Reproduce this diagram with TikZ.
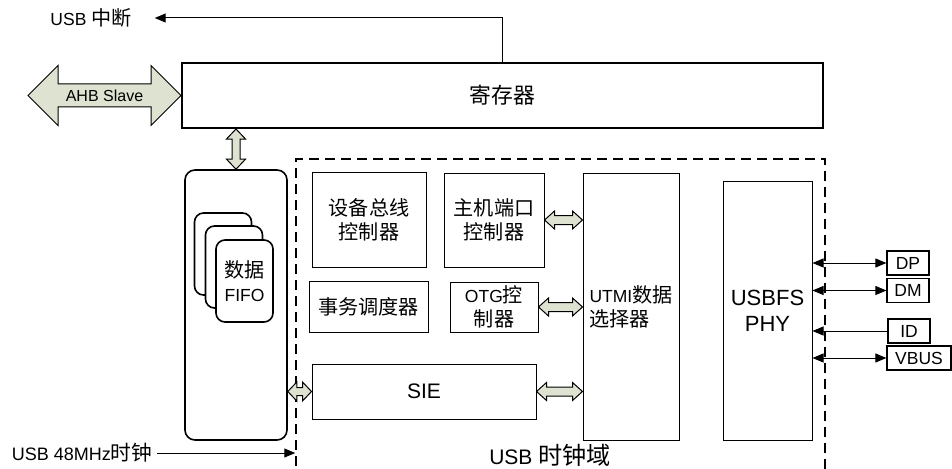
\documentclass[tikz,border=0pt]{standalone}
\usepackage{fontspec}
\setmainfont{Liberation Sans}
\newfontfamily\zhfont[Scale=1.15]{Noto Sans CJK SC}
\newcommand\zh[1]{{\zhfont #1}}
\usetikzlibrary{arrows.meta, positioning, calc}
\definecolor{fatfill}{RGB}{221,227,208}

% fat double arrows: from, to, head length, head half width, shaft half width
\newcommand\hfat[5]{\draw[fat] (#1) -- ++(#3,#4) -- ++(0,#5-#4) -- ($(#2)+(-#3,#5)$) -- ++(0,#4-#5) -- (#2)
  -- ++(-#3,-#4) -- ++(0,#4-#5) -- ($(#1)+(#3,-#5)$) -- ++(0,#5-#4) -- cycle;}
\newcommand\vfat[5]{\draw[fat] (#1) -- ++(#4,#3) -- ++(#5-#4,0) -- ($(#2)+(#5,-#3)$) -- ++(#4-#5,0) -- (#2)
  -- ++(-#4,-#3) -- ++(#4-#5,0) -- ($(#1)+(-#5,#3)$) -- ++(#5-#4,0) -- cycle;}

\begin{document}
\begin{tikzpicture}[
    x=1pt, y=-1pt, font=\fontsize{17.5}{24}\selectfont,
    box/.style={draw, line width=1pt, inner sep=0pt, align=center},
    card/.style={draw, fill=white, rounded corners=9pt, line width=1.6pt, minimum width=57pt, minimum height=82pt},
    pinbox/.style={draw, line width=1.2pt, inner sep=0pt, minimum height=24pt},
    fat/.style={draw, fill=fatfill, line width=1pt},
    sig/.style={line width=1pt, {Triangle[length=11pt,width=9pt]}-{Triangle[length=11pt,width=9pt]}},
    wire/.style={line width=1pt, -{Triangle[length=11pt,width=9pt]}},
    lbl/.style={inner sep=0pt},
]
\useasboundingbox (0,0) rectangle (952,468);

\node[box, line width=2pt, minimum width=641pt, minimum height=65pt, font=\fontsize{19}{22}\selectfont] (reg) at (502.5,95.5) {\zh{寄存器}};

\node[draw, line width=1.6pt, rounded corners=10pt, minimum width=102pt, minimum height=270pt] (fifo) at (236,305) {};
\node[card] (card1) at (223,254) {};
\node[card] (card2) at (234,267) {};
\node[card, align=center, inner sep=0pt] (card3) at (244.5,281) {\zh{数据}\\FIFO};

\node[draw, dash pattern=on 10pt off 6pt, line width=1.5pt, minimum width=529pt, minimum height=341pt] (dom) at (560.5,329.5) {};

\node[box, minimum width=114pt, minimum height=95pt] (dev) at (369,219.5) {\zh{设备总线}\\\zh{控制器}};
\node[box, minimum width=100pt, minimum height=94pt] (host) at (494,220) {\zh{主机端口}\\\zh{控制器}};
\node[box, minimum width=119pt, minimum height=51pt] (sched) at (368.5,306.5) {\zh{事务调度器}};
\node[box, minimum width=88pt, minimum height=50pt] (otg) at (494,307) {OTG\zh{控}\\\zh{制器}};
\node[box, minimum width=224pt, minimum height=55pt, font=\fontsize{21}{24}\selectfont] (sie) at (424,391.5) {SIE};
\node[box, align=left, minimum width=96pt, minimum height=267pt] (utmi) at (631,306.5) {UTMI\zh{数据}\\\zh{选择器}};
\node[box, minimum width=89pt, minimum height=259pt, font=\fontsize{22}{26}\selectfont] (phy) at (767.5,310.5) {USBFS\\PHY};

\node[pinbox, minimum width=42pt] (dp) at (908,263) {DP};
\node[pinbox, minimum width=42pt] (dm) at (908,290.5) {DM};
\node[pinbox, minimum width=42pt] (id) at (909,331) {ID};
\node[pinbox, minimum width=64pt] (vbus) at (919,358) {VBUS};

\node[lbl] (irq) at (91,18) {USB \zh{中断}};
\node[lbl, font=\fontsize{18}{20}\selectfont] (clk) at (82,453) {USB 48MHz\zh{时钟}};
\node[lbl, font=\fontsize{21}{24}\selectfont] (domlbl) at (550,455) {USB \zh{时钟域}};

\draw[wire] (reg.north) |- ([xshift=23pt]irq.east);
\draw[wire] ([xshift=5pt]clk.east) -- (clk.east -| dom.west);

\draw[sig] (dp.west -| phy.east) -- (dp.west);
\draw[sig] (dm.west -| phy.east) -- (dm.west);
\draw[wire] (id.west) -- (id.west -| phy.east);
\draw[sig] (vbus.west -| phy.east) -- (vbus.west);

\coordinate (ahb) at (28,95.5);
\hfat{ahb}{reg.west}{30}{30}{11.5}
\node[lbl, font=\fontsize{16}{18}\selectfont] (ahblbl) at ($(ahb)!0.5!(reg.west)$) {AHB Slave};

\coordinate (regfoot) at (reg.south -| fifo.north);
\vfat{regfoot}{fifo.north}{10}{9.5}{4}

\coordinate (u1) at (utmi.west |- host.east);
\coordinate (u2) at (utmi.west |- otg.east);
\coordinate (u3) at (utmi.west |- sie.east);
\coordinate (f1) at (fifo.east |- sie.west);
\hfat{host.east}{u1}{10}{9}{4.5}
\hfat{otg.east}{u2}{10}{9}{4.5}
\hfat{sie.east}{u3}{10}{9}{4.5}
\hfat{f1}{sie.west}{9}{9.5}{4}
\end{tikzpicture}
\end{document}
